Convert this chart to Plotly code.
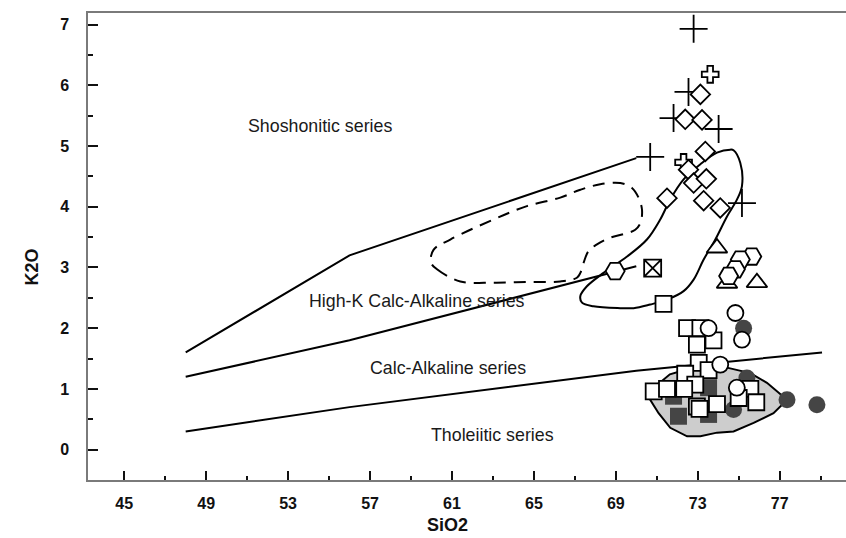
import plotly.graph_objects as go

# ---- Boundary lines (SiO2, K2O) ----
sho_x = [48, 56, 70]
sho_y = [1.6, 3.2, 4.8]
hk_x = [48, 56, 70]
hk_y = [1.2, 1.8, 3.02]
ca_x = [48, 56, 70, 79.07]
ca_y = [0.3, 0.7, 1.3, 1.6]

# dashed field
dash_x = [59.98, 60.27, 61.41, 63.03, 64.66, 66.29, 67.10, 67.27, 67.43, 67.67, 68.08, 68.73,
          69.38, 69.95, 70.20, 70.28, 70.11, 69.79, 69.22, 68.24, 67.27, 66.29, 64.66, 63.03,
          60.92, 60.10, 59.98]
dash_y = [3.08, 2.97, 2.77, 2.75, 2.76, 2.77, 2.83, 2.91, 3.08, 3.27, 3.38, 3.49,
          3.55, 3.62, 3.73, 3.95, 4.15, 4.31, 4.39, 4.37, 4.28, 4.15, 4.01, 3.79,
          3.46, 3.29, 3.08]

# solid high-K field
hkf_x = [74.75, 75.08, 75.16, 74.92, 74.43, 73.86, 73.29, 72.80, 72.31, 71.50, 70.68, 69.87,
         69.22, 67.91, 67.35, 67.27, 67.59, 68.40, 69.55, 70.52, 71.17, 71.66, 72.31, 73.13,
         73.94, 74.59, 74.75]
hkf_y = [4.93, 4.72, 4.34, 4.12, 3.84, 3.46, 3.13, 2.80, 2.61, 2.47, 2.39, 2.33,
         2.33, 2.36, 2.42, 2.53, 2.69, 2.91, 3.18, 3.46, 3.79, 4.12, 4.45, 4.70,
         4.89, 4.94, 4.93]

# grey tholeiitic field
thf_x = [71.15, 71.64, 72.45, 73.59, 74.43, 75.57, 76.38, 77.03, 77.36, 76.70, 75.73, 74.75,
         73.94, 73.13, 72.48, 71.66, 71.09, 70.68, 70.52, 71.15]
thf_y = [1.10, 1.24, 1.32, 1.35, 1.35, 1.26, 1.10, 0.91, 0.82, 0.60, 0.44, 0.30,
         0.28, 0.22, 0.22, 0.36, 0.60, 0.82, 0.99, 1.10]

# ---- Samples ----
plus_x = [72.8, 72.55, 71.82, 74.02, 70.68, 75.16]
plus_y = [6.93, 5.89, 5.46, 5.28, 4.82, 4.06]
crossb_x = [73.61, 72.31]
crossb_y = [6.18, 4.73]
diam_x = [73.13, 72.39, 73.21, 73.37, 72.55, 72.80, 73.42, 73.29, 74.10, 71.50]
diam_y = [5.85, 5.44, 5.43, 4.91, 4.61, 4.39, 4.46, 4.10, 3.98, 4.14]
tri_x = [73.94, 75.89, 74.43]
tri_y = [3.32, 2.75, 2.74]
hex_x = [68.97, 75.64, 75.08, 74.84, 74.51]
hex_y = [2.94, 3.18, 3.13, 2.97, 2.86]
boxx_x = [70.8]
boxx_y = [2.99]
dsq_x = [73.53, 72.06, 73.53, 71.82]
dsq_y = [1.02, 0.55, 0.58, 0.88]
dci_x = [75.24, 75.40, 74.75, 77.36, 78.82]
dci_y = [2.00, 1.18, 0.66, 0.82, 0.74]
sq_x = [71.33, 72.48, 73.13, 72.96, 73.77, 73.05, 72.39, 73.53, 72.88, 70.85, 71.50, 72.34,
        72.96, 73.09, 73.94, 75.57, 75.00, 75.86]
sq_y = [2.40, 2.00, 2.00, 1.73, 1.80, 1.43, 1.25, 1.31, 1.07, 0.96, 1.00, 1.00,
        0.71, 0.67, 0.75, 1.00, 0.85, 0.78]
ci_x = [74.84, 73.53, 75.16, 74.10, 74.91]
ci_y = [2.25, 2.00, 1.81, 1.40, 1.02]

# labels
lab_text = ["Shoshonitic series", "High-K Calc-Alkaline series", "Calc-Alkaline series", "Tholeiitic series"]
lab_x = [54.57, 59.31, 60.82, 62.99]
lab_y = [5.33, 2.44, 1.346, 0.247]

x_ticks = [45, 49, 53, 57, 61, 65, 69, 73, 77]
y_ticks = [0, 1, 2, 3, 4, 5, 6, 7]

FONT = "Liberation Sans, Arial, sans-serif"
DARK = "#454545"

fig = go.Figure()

fig.add_trace(go.Scatter(x=thf_x, y=thf_y, mode="lines", fill="toself", fillcolor="#cdcdcd",
                         line=dict(color="black", width=2), hoverinfo="skip"))
for xs, ys in [(sho_x, sho_y), (hk_x, hk_y), (ca_x, ca_y), (hkf_x, hkf_y)]:
    fig.add_trace(go.Scatter(x=xs, y=ys, mode="lines", line=dict(color="black", width=2),
                             line_shape="spline" if xs is hkf_x else "linear"))
fig.add_trace(go.Scatter(x=dash_x, y=dash_y, mode="lines", line_shape="spline",
                         line=dict(color="black", width=2, dash="12px,8px")))

def mk(xs, ys, symbol, size, color="white", lw=1.8):
    fig.add_trace(go.Scatter(x=xs, y=ys, mode="markers",
                             marker=dict(symbol=symbol, size=size, color=color,
                                         line=dict(color="black" if color == "white" else color, width=lw))))

mk(plus_x, plus_y, "cross-thin", 20, color="black", lw=1.8)
mk(crossb_x, crossb_y, "cross", 14)
mk(diam_x, diam_y, "diamond", 15)
mk(tri_x, tri_y, "triangle-up", 18)
mk(hex_x, hex_y, "hexagon2", 19)
mk(boxx_x, boxx_y, "square-x", 17)
mk(dsq_x, dsq_y, "square", 17, color=DARK, lw=0)
mk(dci_x, dci_y, "circle", 17, color=DARK, lw=0)
mk(sq_x, sq_y, "square", 16)
mk(ci_x, ci_y, "circle", 16)

for t, x, y in zip(lab_text, lab_x, lab_y):
    fig.add_annotation(x=x, y=y, text=t, showarrow=False,
                       font=dict(family=FONT, size=17.8, color="#1a1a1a"))

fig.add_annotation(x=60.77, y=-0.5, yshift=-45, text="<b>SiO2</b>", showarrow=False,
                   font=dict(family=FONT, size=18, color="#111"))
fig.add_annotation(xref="paper", x=0, xshift=-68, y=3.0, text="<b>K2O</b>", showarrow=False,
                   textangle=-90, font=dict(family=FONT, size=18, color="#111"))

fig.update_layout(
    width=846, height=538,
    margin=dict(l=88, r=0, t=13, b=58),
    paper_bgcolor="white", plot_bgcolor="white",
    showlegend=False,
    xaxis=dict(range=[43.23, 80.24], tickvals=x_ticks, ticks="inside", ticklen=9, tickwidth=2,
               tickcolor="#111", showline=True, linecolor="#7a7a7a", linewidth=1.5, mirror=True,
               showgrid=False, zeroline=False, ticklabelstandoff=8,
               tickfont=dict(family=FONT, size=16, color="#111", weight="bold"),
               minor=dict(tickvals=[47, 51, 55, 59, 63, 67, 71, 75, 79], ticks="inside", ticklen=4,
                          tickwidth=2, tickcolor="#111")),
    yaxis=dict(range=[-0.5, 7.19], tickvals=y_ticks, ticks="inside", ticklen=10, tickwidth=2,
               tickcolor="#111", showline=True, linecolor="#7a7a7a", linewidth=1.5,
               showgrid=False, zeroline=False, ticklabelstandoff=14,
               tickfont=dict(family=FONT, size=16, color="#111", weight="bold"),
               minor=dict(tickvals=[0.5, 1.5, 2.5, 3.5, 4.5, 5.5, 6.5], ticks="inside", ticklen=5,
                          tickwidth=2, tickcolor="#111")),
)

fig.write_html("out.html")
